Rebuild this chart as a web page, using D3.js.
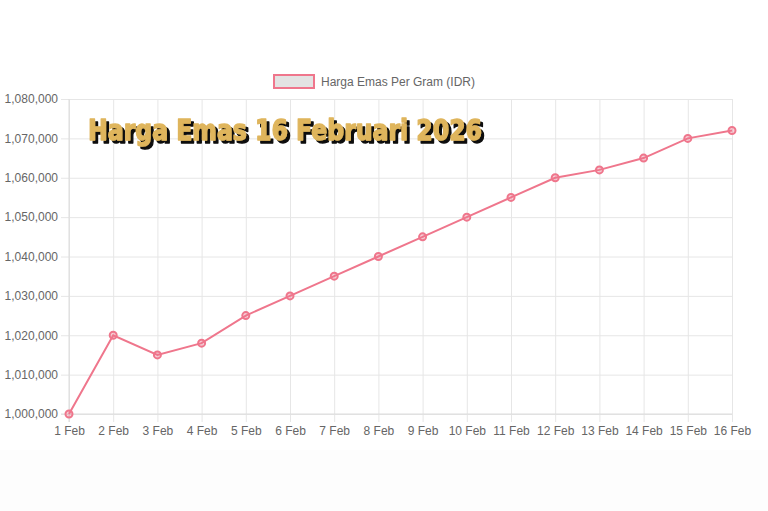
<!DOCTYPE html>
<html><head><meta charset="utf-8">
<script src="https://cdn.jsdelivr.net/npm/d3@7/dist/d3.min.js"></script>
<style>html,body{margin:0;padding:0;background:#fff;}svg{display:block;}</style>
</head><body>
<script>
const categories = ["1 Feb","2 Feb","3 Feb","4 Feb","5 Feb","6 Feb","7 Feb","8 Feb","9 Feb","10 Feb","11 Feb","12 Feb","13 Feb","14 Feb","15 Feb","16 Feb"];
const prices = [1000000,1020000,1015000,1018000,1025000,1030000,1035000,1040000,1045000,1050000,1055000,1060000,1062000,1065000,1070000,1072000];
const yTicks = [1000000,1010000,1020000,1030000,1040000,1050000,1060000,1070000,1080000];
const seriesName = "Harga Emas Per Gram (IDR)";
const titleText = "Harga Emas 16 Februari 2026";

const W = 768, H = 511;
const L = 69, R = 732, T = 99, B = 414;
const lineColor = "rgb(239,118,140)";
const gridColor = "#e6e6e6";
const font = "'Liberation Sans', Arial, sans-serif";

const svg = d3.select("body").append("svg").attr("width", W).attr("height", H);
const defs = svg.append("defs");
const f = defs.append("filter").attr("id", "shadow").attr("x", "-5%").attr("y", "-20%").attr("width", "115%").attr("height", "160%");
f.append("feDropShadow").attr("dx", 3).attr("dy", 3).attr("stdDeviation", 0.4)
  .attr("flood-color", "#111").attr("flood-opacity", 1);

svg.append("rect").attr("width", W).attr("height", H).attr("fill", "#fff");
svg.append("rect").attr("x",0).attr("y",450).attr("width", W).attr("height", H-450).attr("fill", "#fdfdfd");

const x = d3.scalePoint().domain(categories).range([L, R]);
const y = d3.scaleLinear().domain([1000000, 1080000]).range([B, T]);

// horizontal grid + y tick marks
const yAxis = d3.axisLeft(y).tickValues(yTicks).tickSize(-(R - L)).tickSizeOuter(0).tickPadding(11)
  .tickFormat(d3.format(","));
const gy = svg.append("g").attr("transform", `translate(${L},0)`).call(yAxis);
gy.select(".domain").remove();
gy.selectAll(".tick line").attr("stroke", gridColor).attr("x1", -8);
gy.selectAll(".tick text").attr("fill", "#666").style("font-family", font).style("font-size", "12px");

// vertical grid + x tick marks
const xAxis = d3.axisBottom(x).tickSize(-(B - T)).tickSizeOuter(0).tickPadding(12);
const gx = svg.append("g").attr("transform", `translate(0,${B})`).call(xAxis);
gx.select(".domain").remove();
gx.selectAll(".tick line").attr("stroke", gridColor).attr("y1", 8);
gx.selectAll(".tick text").attr("fill", "#666").style("font-family", font).style("font-size", "12px");

// axis lines
svg.append("line").attr("x1", L).attr("x2", L).attr("y1", T).attr("y2", B + 8).attr("stroke", "#dcdcdc");
svg.append("line").attr("x1", L - 8).attr("x2", R).attr("y1", B).attr("y2", B).attr("stroke", "#dcdcdc");

// line
const line = d3.line().x((d, i) => x(categories[i])).y(d => y(d));
svg.append("path").datum(prices).attr("d", line).attr("fill", "none")
  .attr("stroke", lineColor).attr("stroke-width", 2);
svg.selectAll("circle.pt").data(prices).enter().append("circle").attr("class", "pt")
  .attr("cx", (d, i) => x(categories[i])).attr("cy", d => y(d)).attr("r", 3.5)
  .attr("fill", "rgba(239,118,140,0.35)").attr("stroke", lineColor).attr("stroke-width", 2);

// legend
svg.append("rect").attr("x", 274).attr("y", 75).attr("width", 40).attr("height", 13)
  .attr("fill", "#e3e3e3").attr("stroke", lineColor).attr("stroke-width", 2);
svg.append("text").attr("x", 321).attr("y", 86).text(seriesName)
  .attr("fill", "#666").style("font-family", font).style("font-size", "12px");

// title overlay with drop shadow
svg.append("text").attr("x", 88).attr("y", 140).text(titleText)
  .attr("textLength", 394).attr("lengthAdjust", "spacingAndGlyphs")
  .attr("fill", "#dfb55c").attr("stroke", "#dfb55c").attr("stroke-width", 1.4).attr("stroke-linejoin", "round")
  .attr("filter", "url(#shadow)")
  .style("font-family", "'DejaVu Sans', sans-serif").style("font-weight", "bold").style("font-size", "29px");
</script>
</body></html>
